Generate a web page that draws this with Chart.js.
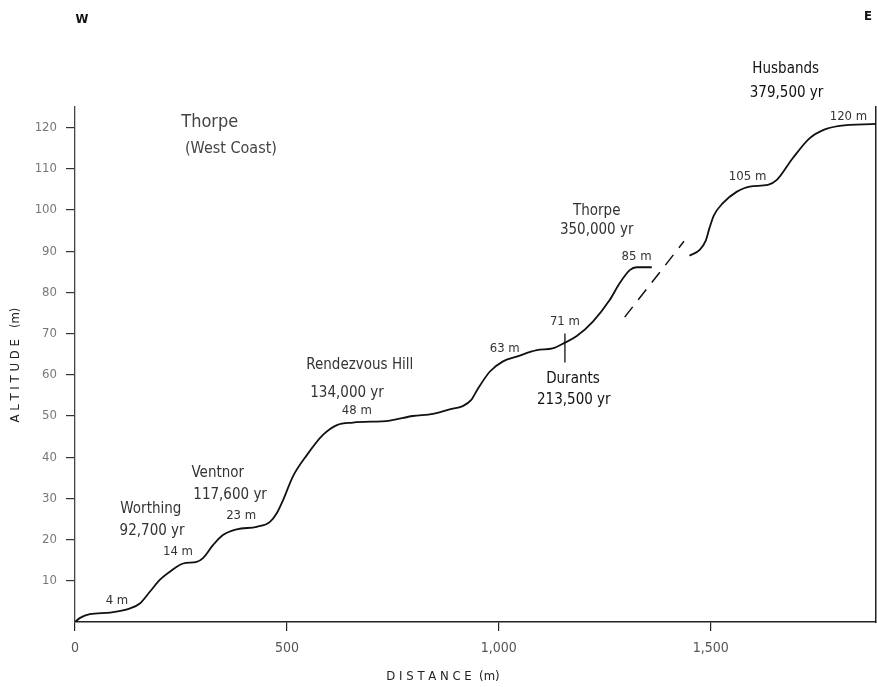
<!DOCTYPE html>
<html>
<head>
<meta charset="utf-8">
<script src="https://cdn.jsdelivr.net/npm/chart.js@4/dist/chart.umd.min.js"></script>
<style>
  html, body { margin: 0; padding: 0; background: #fff; }
  canvas { display: block; }
</style>
</head>
<body>
<canvas id="profile" width="877" height="687"></canvas>
<script>
// terrace profile, west part (distance m / altitude m)
var westDistance = [0, 12, 35, 83, 130, 153, 177, 200, 224, 255, 287, 302, 326, 349, 382, 429, 460, 476, 491,
  514, 547, 585, 618, 656, 743, 797, 845, 884, 915, 935, 950, 979, 1009, 1042, 1090, 1127, 1156, 1184, 1222,
  1262, 1285, 1309, 1325, 1361];
var westAltitude = [0, 1, 1.9, 2.3, 3.3, 4.5, 7.4, 10.2, 12.2, 14.2, 14.6, 15.5, 18.7, 21.1, 22.5, 23.1, 24.3, 26.4, 29.6,
  35.3, 40.5, 45.4, 47.8, 48.4, 48.9, 50, 50.5, 51.6, 52.4, 53.9, 56.5, 60.8, 63.2, 64.4, 66, 66.4, 67.8, 69.4, 72.9,
  78.2, 82.2, 85.4, 86.1, 86.1];

// east part, after the break
var eastDistance = [1450, 1474, 1488, 1497, 1507, 1528, 1561, 1592, 1635, 1656, 1693, 1733, 1765, 1804, 1890];
var eastAltitude = [88.9, 90.3, 92.5, 95.6, 98.6, 101.6, 104.4, 105.7, 106.1, 107.3, 112.5, 117.4, 119.4, 120.4, 120.9];

// dashed break line and Durants marker
var breakDistance = [1297, 1437];
var breakAltitude = [74, 92.4];
var durantsDistance = [1156, 1156];
var durantsAltitude = [63, 70];

var xTicks = [0, 500, 1000, 1500];
var yTicks = [10, 20, 30, 40, 50, 60, 70, 80, 90, 100, 110, 120];

// text notes: [text, distance, altitude, kind]
var notes = [
  ['Thorpe', 318, 121.4, 'title'],
  ['(West Coast)', 368, 114.8, 'title2'],
  ['Worthing', 179, 27.4, 'name'],
  ['92,700 yr', 182, 22.1, 'name'],
  ['4 m', 99, 5.3, 'm'],
  ['14 m', 243, 17, 'm'],
  ['Ventnor', 337, 36.2, 'name'],
  ['117,600 yr', 366, 30.8, 'name'],
  ['23 m', 392, 25.7, 'm'],
  ['Rendezvous Hill', 672, 62.4, 'name'],
  ['134,000 yr', 642, 55.6, 'name'],
  ['48 m', 665, 51.2, 'm'],
  ['63 m', 1014, 66.3, 'm'],
  ['71 m', 1156, 72.8, 'm'],
  ['Durants', 1175, 59, 'dark'],
  ['213,500 yr', 1177, 53.9, 'dark'],
  ['Thorpe', 1231, 99.8, 'name'],
  ['350,000 yr', 1231, 95.1, 'name'],
  ['85 m', 1325, 88.6, 'm'],
  ['105 m', 1587, 108, 'm'],
  ['120 m', 1825, 122.6, 'm'],
  ['Husbands', 1677, 134.2, 'dark'],
  ['379,500 yr', 1679, 128.4, 'dark']
];

var FONT = "'Liberation Sans Narrow', 'DejaVu Sans Condensed', 'Liberation Sans', sans-serif";

function pairs(xs, ys) {
  return xs.map(function (x, i) { return {x: x, y: ys[i]}; });
}

var textPlugin = {
  id: 'profileText',
  afterDraw: function (chart) {
    var ctx = chart.ctx;
    var xs = chart.scales.x, ys = chart.scales.y;
    ctx.save();
    ctx.textAlign = 'center';
    ctx.textBaseline = 'middle';
    notes.forEach(function (n) {
      var px = xs.getPixelForValue(n[1]);
      var py = ys.getPixelForValue(n[2]);
      if (n[3] === 'title') { ctx.font = '300 18px ' + FONT; ctx.fillStyle = '#444'; }
      else if (n[3] === 'title2') { ctx.font = '300 16px ' + FONT; ctx.fillStyle = '#444'; }
      else if (n[3] === 'm') { ctx.font = '13px ' + FONT; ctx.fillStyle = '#333'; }
      else if (n[3] === 'dark') { ctx.font = '15px ' + FONT; ctx.fillStyle = '#111'; }
      else { ctx.font = '15px ' + FONT; ctx.fillStyle = '#333'; }
      ctx.fillText(n[0], px, py);
    });

    // compass letters
    ctx.font = 'bold 13px ' + FONT;
    ctx.fillStyle = '#111';
    ctx.fillText('W', 82, 20);
    ctx.fillText('E', 868, 17);

    // axis titles
    ctx.font = '13px ' + FONT;
    ctx.fillStyle = '#222';
    ctx.fillText('D I S T A N C E  (m)', 443, 677);
    ctx.save();
    ctx.translate(16, 365);
    ctx.rotate(-Math.PI / 2);
    ctx.fillText('A L T I T U D E   (m)', 0, 0);
    ctx.restore();
    ctx.restore();
  }
};

var lineStyle = {
  showLine: true,
  pointRadius: 0,
  borderColor: '#111',
  borderWidth: 1.8,
  fill: false
};

var chart = new Chart(document.getElementById('profile'), {
  type: 'scatter',
  data: {
    datasets: [
      Object.assign({label: 'west', data: pairs(westDistance, westAltitude), cubicInterpolationMode: 'monotone'}, lineStyle),
      Object.assign({label: 'east', data: pairs(eastDistance, eastAltitude), cubicInterpolationMode: 'monotone'}, lineStyle),
      Object.assign({label: 'break', data: pairs(breakDistance, breakAltitude), borderDash: [13, 9]}, lineStyle, {borderWidth: 1.5}),
      Object.assign({label: 'durants', data: pairs(durantsDistance, durantsAltitude)}, lineStyle, {borderWidth: 1.3})
    ]
  },
  options: {
    responsive: false,
    animation: false,
    layout: { padding: { top: 107, right: 1, left: 0, bottom: 0 } },
    plugins: {
      legend: { display: false },
      tooltip: { enabled: false }
    },
    scales: {
      x: {
        type: 'linear',
        min: 0,
        max: 1890,
        afterBuildTicks: function (scale) {
          scale.ticks = xTicks.map(function (v) { return {value: v}; });
        },
        afterFit: function (scale) { scale.height = 65; },
        ticks: {
          color: '#555',
          padding: 9,
          font: { family: FONT, size: 14 },
          maxRotation: 0,
          callback: function (v) { return v.toLocaleString('en-US'); }
        },
        grid: { drawOnChartArea: false, drawTicks: true, tickLength: 9, color: '#222', lineWidth: 1.2 },
        border: { display: true, color: '#222', width: 1.5 }
      },
      y: {
        type: 'linear',
        min: 0,
        max: 125,
        afterBuildTicks: function (scale) {
          scale.ticks = yTicks.map(function (v) { return {value: v}; });
        },
        afterFit: function (scale) { scale.width = 75; },
        ticks: {
          color: '#777',
          padding: 9,
          font: { family: FONT, size: 13 }
        },
        grid: { drawOnChartArea: false, drawTicks: true, tickLength: 9, color: '#333', lineWidth: 1.2 },
        border: { display: true, color: '#444', width: 1.3 }
      },
      right: {
        type: 'linear',
        position: 'right',
        min: 0,
        max: 125,
        afterFit: function (scale) { scale.width = 0; },
        ticks: { display: false },
        grid: { drawOnChartArea: false, drawTicks: false },
        border: { display: true, color: '#222', width: 1.5 }
      }
    }
  },
  plugins: [textPlugin]
});
</script>
</body>
</html>
